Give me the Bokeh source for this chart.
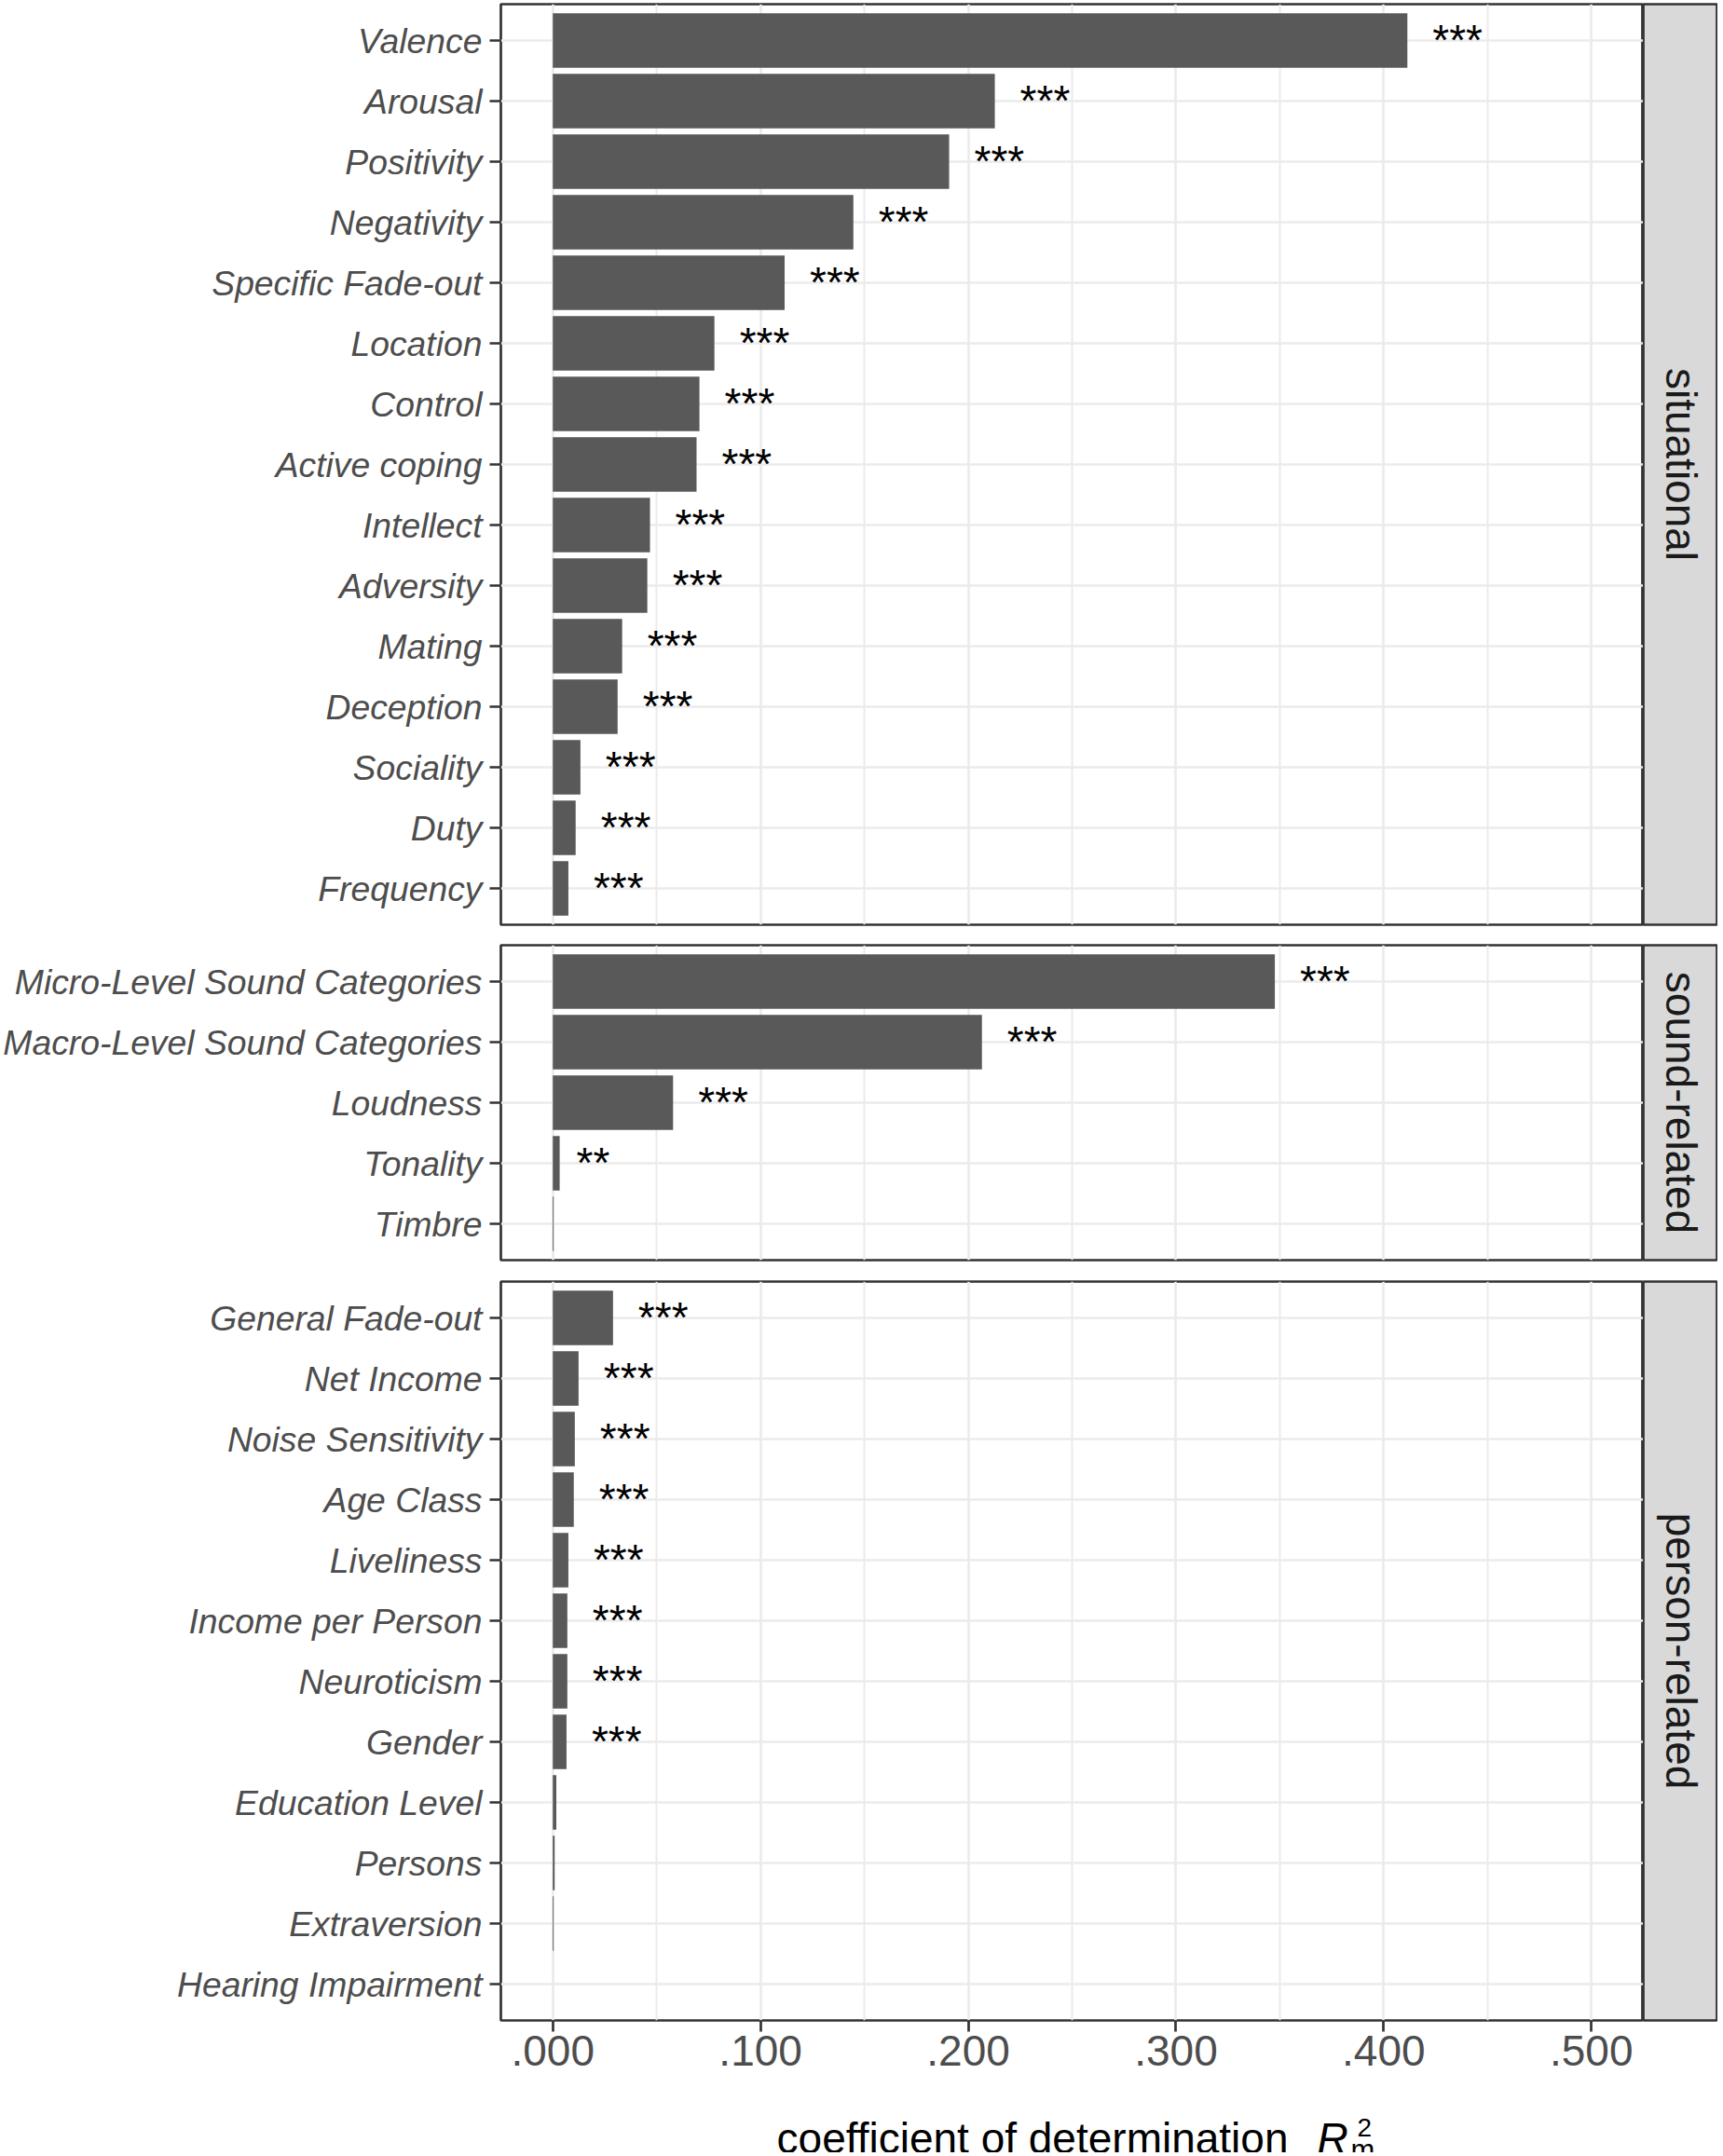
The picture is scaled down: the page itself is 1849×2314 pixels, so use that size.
import math
from bokeh.plotting import figure
from bokeh.models import Range1d, FixedTicker, ColumnDataSource
from bokeh.layouts import column, row
from bokeh.embed import file_html
from bokeh.resources import INLINE
from bokeh.core.properties import value

# ---------------- data ----------------
situational_labels = ["Valence", "Arousal", "Positivity", "Negativity", "Specific Fade-out",
                      "Location", "Control", "Active coping", "Intellect", "Adversity",
                      "Mating", "Deception", "Sociality", "Duty", "Frequency"]
situational_r2 = [0.4114, 0.2128, 0.1908, 0.1447, 0.1116, 0.0778, 0.0706, 0.0692,
                  0.0468, 0.0455, 0.0334, 0.0312, 0.0133, 0.0110, 0.0075]
situational_sig = ["***", "***", "***", "***", "***", "***", "***", "***",
                   "***", "***", "***", "***", "***", "***", "***"]

sound_labels = ["Micro-Level Sound Categories", "Macro-Level Sound Categories",
                "Loudness", "Tonality", "Timbre"]
sound_r2 = [0.3476, 0.2066, 0.0579, 0.0033, 0.0004]
sound_sig = ["***", "***", "***", "**", ""]

person_labels = ["General Fade-out", "Net Income", "Noise Sensitivity", "Age Class",
                 "Liveliness", "Income per Person", "Neuroticism", "Gender",
                 "Education Level", "Persons", "Extraversion", "Hearing Impairment"]
person_r2 = [0.0290, 0.0124, 0.0106, 0.0101, 0.0075, 0.0070, 0.0070, 0.0066,
             0.0017, 0.0009, 0.0004, 0.0]
person_sig = ["***", "***", "***", "***", "***", "***", "***", "***", "", "", "", ""]

panel_names = ["situational", "sound-related", "person-related"]

x_ticks = [0.0, 0.1, 0.2, 0.3, 0.4, 0.5]
x_tick_labels = [".000", ".100", ".200", ".300", ".400", ".500"]
x_minor_ticks = [0.05, 0.15, 0.25, 0.35, 0.45]

axis_title = "coefficient of determination"

# ---------------- style ----------------
FONT = "Liberation Sans"
UNIT = 65.0            # px per category row
LEFT = 537
FRAME_W = 1226
STRIP_W = 80
BORDER = "#333333"
GRID = "#ebebeb"
BAR = "#595959"
LABEL_COL = "#4d4d4d"
LW = 2.7

x_range = Range1d(-0.025, 0.525)

panels = [
    (situational_labels, situational_r2, situational_sig),
    (sound_labels, sound_r2, sound_sig),
    (person_labels, person_r2, person_sig),
]
tops = [4, 20, 21]
bottoms = [2, 2, 92]

rows = []
used_h = 0
for k, (labels, r2, sig) in enumerate(panels):
    n = len(labels)
    pos = [i + 1 for i in range(n)]
    fh = int(round((n - 1 + 1.2) * UNIT))
    used_h += tops[k] + fh + bottoms[k]
    p = figure(frame_width=FRAME_W, frame_height=fh, x_range=x_range,
               y_range=Range1d(n + 0.6, 0.4), output_backend="svg",
               toolbar_location=None, min_border_left=LEFT, min_border_right=0,
               min_border_top=tops[k], min_border_bottom=bottoms[k])
    p.background_fill_color = "white"
    p.border_fill_color = "white"
    p.outline_line_color = BORDER
    p.outline_line_width = LW

    # grids
    p.xgrid.ticker = FixedTicker(ticks=x_ticks, minor_ticks=x_minor_ticks)
    p.xgrid.grid_line_color = GRID
    p.xgrid.grid_line_width = LW
    p.xgrid.minor_grid_line_color = GRID
    p.xgrid.minor_grid_line_width = 2.0
    p.ygrid.ticker = FixedTicker(ticks=pos)
    p.ygrid.grid_line_color = GRID
    p.ygrid.grid_line_width = LW

    # y axis
    p.yaxis.ticker = FixedTicker(ticks=pos)
    p.yaxis.major_label_overrides = {pp: lab for pp, lab in zip(pos, labels)}
    p.yaxis.major_label_text_font = FONT
    p.yaxis.major_label_text_font_style = "italic"
    p.yaxis.major_label_text_font_size = "37.3px"
    p.yaxis.major_label_text_color = LABEL_COL
    p.yaxis.major_label_standoff = 8
    p.yaxis.major_tick_out = 12
    p.yaxis.major_tick_in = 0
    p.yaxis.minor_tick_out = 0
    p.yaxis.minor_tick_in = 0
    p.yaxis.major_tick_line_color = BORDER
    p.yaxis.major_tick_line_width = LW
    p.yaxis.axis_line_color = None

    # x axis
    p.xaxis.ticker = FixedTicker(ticks=x_ticks, minor_ticks=[])
    if k < 2:
        p.xaxis.visible = False
    else:
        p.xaxis.major_label_overrides = {t: s for t, s in zip(x_ticks, x_tick_labels)}
        p.xaxis.major_label_text_font = FONT
        p.xaxis.major_label_text_font_size = "46px"
        p.xaxis.major_label_text_color = LABEL_COL
        p.xaxis.major_label_standoff = 4
        p.xaxis.major_tick_out = 12
        p.xaxis.major_tick_in = 0
        p.xaxis.minor_tick_out = 0
        p.xaxis.minor_tick_in = 0
        p.xaxis.major_tick_line_color = BORDER
        p.xaxis.major_tick_line_width = LW
        p.xaxis.axis_line_color = None

    src = ColumnDataSource(dict(
        y=pos, r2=r2, sig=sig,
        xoff=[9.0 * len(s) for s in sig],
    ))
    p.hbar(y="y", left=0, right="r2", height=0.9, source=src,
           fill_color=BAR, line_color=None)
    p.text(x="r2", y="y", text="sig", x_offset="xoff", y_offset=-1, source=src,
           text_font=value(FONT), text_font_size="46px", text_color="black",
           text_align="left", text_baseline="middle")

    # facet strip
    s = figure(frame_width=STRIP_W, frame_height=fh, x_range=Range1d(0, 1),
               y_range=Range1d(0, 1), output_backend="svg", toolbar_location=None,
               x_axis_type=None, y_axis_type=None,
               min_border_left=0, min_border_right=0,
               min_border_top=tops[k], min_border_bottom=bottoms[k])
    s.grid.visible = False
    s.background_fill_color = "#d9d9d9"
    s.border_fill_color = "white"
    s.outline_line_color = BORDER
    s.outline_line_width = LW
    s.text(x=[0.5], y=[0.5], text=[panel_names[k]], angle=-math.pi / 2,
           text_font=value(FONT), text_font_size="46px", text_color="#1a1a1a",
           text_align="center", text_baseline="middle")
    rows.append(row(p, s))

# axis title strip (fills the rest of the page height)
TW = LEFT + FRAME_W + STRIP_W
TH = 2310 - used_h
t = figure(frame_width=TW, frame_height=TH, x_range=Range1d(0, TW), y_range=Range1d(0, TH),
           output_backend="svg", toolbar_location=None, x_axis_type=None, y_axis_type=None,
           min_border_left=0, min_border_right=0, min_border_top=0, min_border_bottom=0)
t.grid.visible = False
t.outline_line_color = None
t.background_fill_color = "white"
t.border_fill_color = "white"
t.text(x=[1382], y=[16], text=[axis_title], text_font=value(FONT), text_font_size="46px",
       text_color="black", text_align="right", text_baseline="alphabetic")
t.text(x=[1413], y=[16], text=["R"], text_font=value(FONT), text_font_size="46px",
       text_font_style="italic", text_color="black", text_align="left",
       text_baseline="alphabetic")
t.text(x=[1456], y=[27], text=["2"], text_font=value(FONT), text_font_size="28px",
       text_color="black", text_align="left", text_baseline="alphabetic")
t.text(x=[1449], y=[3], text=["m"], text_font=value(FONT), text_font_size="31px",
       text_color="black", text_align="left", text_baseline="alphabetic")

layout = column(*rows, t)
open("out.html", "w").write(file_html(layout, INLINE))
